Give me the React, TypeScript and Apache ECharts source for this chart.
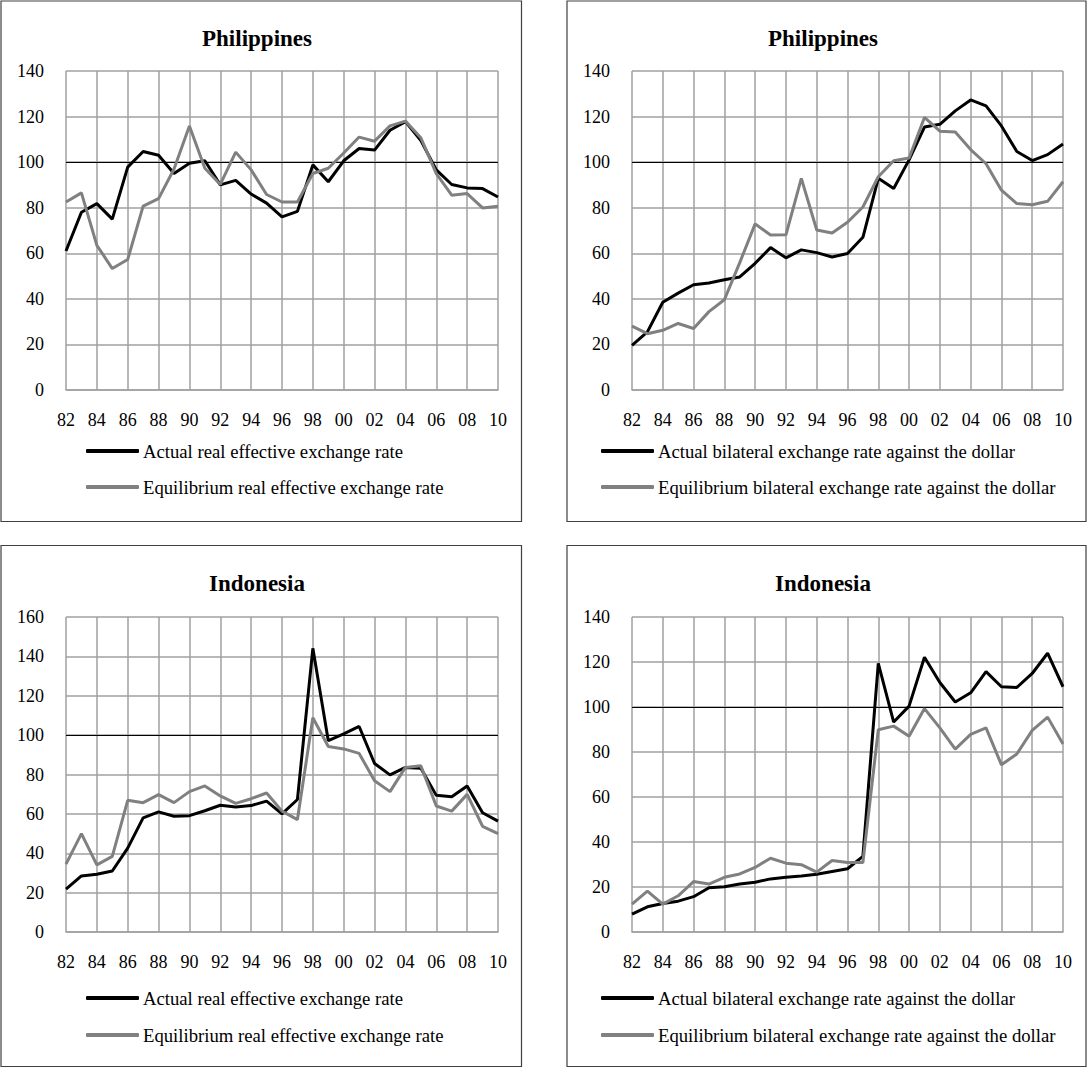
import React, { useEffect, useRef } from "react";
import * as echarts from "echarts";

const years = ["82","83","84","85","86","87","88","89","90","91","92","93","94","95","96","97","98","99","00","01","02","03","04","05","06","07","08","09","10"];

const phReerActual = [61, 78, 81.8, 75, 97.8, 104.7, 103, 95, 99.5, 100.6, 90, 92, 86, 82, 76, 78.4, 98.8, 91.4, 100.6, 106, 105.3, 114, 117.8, 109.5, 96.6, 90.2, 88.7, 88.4, 84.7];
const phReerEquil = [82.5, 86.5, 63.5, 53.3, 57.3, 80.7, 84, 97, 115.9, 97.3, 90.2, 104.4, 96.6, 85.8, 82.5, 82.5, 95, 97.3, 104, 111, 109.2, 115.9, 118, 110.7, 95, 85.5, 86.2, 79.9, 80.6];

const phBilActual = [19.6, 25.5, 38.5, 42.5, 46.2, 47, 48.4, 49.6, 55.6, 62.5, 58, 61.5, 60.3, 58.4, 59.9, 67, 92.9, 88.4, 101, 115.4, 116.6, 122.5, 127.3, 124.7, 115.9, 104.7, 100.7, 103.3, 108];
const phBilEquil = [28, 24.7, 26.2, 29.2, 27, 34.4, 39.6, 55.9, 72.9, 68, 68.1, 92.9, 70.2, 68.9, 73.6, 80.3, 93.6, 100.6, 101.8, 119.6, 113.6, 113.2, 105.5, 99.3, 87.7, 81.8, 81.3, 82.8, 91.4];

const idReerActual = [21.8, 28.5, 29.3, 31, 42.6, 58, 61, 58.8, 59.1, 61.6, 64.4, 63.5, 64.2, 66.5, 60, 67.3, 144.1, 97.2, 100.6, 104.4, 85.6, 79.8, 83.6, 83.2, 69.4, 68.7, 74.2, 60.6, 56.3];
const idReerEquil = [34.5, 50, 34.1, 38.4, 66.9, 65.7, 69.8, 65.7, 71.3, 74.2, 69.1, 65.3, 67.7, 70.6, 61.4, 57.1, 108.8, 94.2, 93, 90.7, 76.8, 71.3, 83.6, 84.4, 64, 61.4, 69.9, 53.7, 50];

const idBilActual = [7.9, 11.2, 12.7, 13.7, 15.7, 19.7, 20.1, 21.3, 22.1, 23.6, 24.3, 24.9, 25.7, 26.9, 28.1, 33.6, 119.4, 93.3, 100.4, 122.1, 110.9, 102.2, 106.3, 115.7, 109, 108.7, 114.9, 123.9, 109];
const idBilEquil = [12.4, 18.2, 12.4, 16.1, 22.4, 21.3, 24.3, 25.8, 28.7, 32.8, 30.6, 29.9, 26.6, 31.8, 30.9, 30.9, 89.9, 91.5, 87, 99.3, 90.7, 81.3, 87.8, 90.7, 74.3, 79.1, 89.6, 95.5, 83.6];

const titles = ["Philippines", "Philippines", "Indonesia", "Indonesia"];
const yMax = [140, 140, 160, 140];
const reerNames = ["Actual real effective exchange rate", "Equilibrium real effective exchange rate"];
const bilNames = ["Actual bilateral exchange rate against the dollar", "Equilibrium bilateral exchange rate against the dollar"];
const referenceLevel = 100;

const FONT = "Liberation Serif";
const GRID_COLOR = "#a0a0a0";
const ACTUAL_COLOR = "#000000";
const EQUIL_COLOR = "#808080";

export default function App() {
  const ref = useRef<HTMLDivElement>(null);
  useEffect(() => {
    if (!ref.current) return;
    const chart = echarts.init(ref.current, null, { renderer: "svg" });

    const panels = [
      { data: [phReerActual, phReerEquil], names: reerNames, grid: { left: 66, top: 71, width: 432, height: 319 }, titleX: 252, titleY: 22, legendX: 86, legendY: [441, 477] },
      { data: [phBilActual, phBilEquil], names: bilNames, grid: { left: 632, top: 71, width: 431, height: 319 }, titleX: 818, titleY: 22, legendX: 601, legendY: [441, 477] },
      { data: [idReerActual, idReerEquil], names: reerNames, grid: { left: 66, top: 617, width: 432, height: 315 }, titleX: 252, titleY: 567, legendX: 86, legendY: [988, 1025] },
      { data: [idBilActual, idBilEquil], names: bilNames, grid: { left: 632, top: 617, width: 431, height: 315 }, titleX: 818, titleY: 567, legendX: 601, legendY: [988, 1025] },
    ];

    const grids: any[] = [];
    const xAxes: any[] = [];
    const yAxes: any[] = [];
    const series: any[] = [];
    const legends: any[] = [];
    const titleOpts: any[] = [];

    panels.forEach((p, i) => {
      grids.push({ ...p.grid, containLabel: false });
      xAxes.push({
        type: "category",
        gridIndex: i,
        data: years,
        boundaryGap: false,
        axisTick: { show: false },
        axisLine: { show: true, lineStyle: { color: GRID_COLOR, width: 1.5 } },
        axisLabel: { interval: 1, margin: 21, color: "#000", fontFamily: FONT, fontSize: 18 },
        splitLine: { show: true, interval: 1, lineStyle: { color: GRID_COLOR, width: 1.5 } },
      });
      yAxes.push({
        type: "value",
        gridIndex: i,
        min: 0,
        max: yMax[i],
        interval: 20,
        axisLine: { show: false },
        axisTick: { show: false },
        axisLabel: { margin: 22, color: "#000", fontFamily: FONT, fontSize: 18 },
        splitLine: { show: true, lineStyle: { color: GRID_COLOR, width: 1.5 } },
      });
      series.push({
        type: "line",
        name: p.names[0],
        xAxisIndex: i,
        yAxisIndex: i,
        data: p.data[0],
        showSymbol: false,
        symbol: "none",
        lineStyle: { color: ACTUAL_COLOR, width: 3 },
        itemStyle: { color: ACTUAL_COLOR },
        z: 3,
        markLine: {
          silent: true,
          symbol: "none",
          label: { show: false },
          lineStyle: { color: "#000", width: 1.2, type: "solid" },
          data: [{ yAxis: referenceLevel }],
          z: 2,
        },
      });
      series.push({
        type: "line",
        name: p.names[1],
        xAxisIndex: i,
        yAxisIndex: i,
        data: p.data[1],
        showSymbol: false,
        symbol: "none",
        lineStyle: { color: EQUIL_COLOR, width: 3 },
        itemStyle: { color: EQUIL_COLOR },
        z: 4,
      });
      titleOpts.push({
        text: titles[i],
        left: p.titleX,
        top: p.titleY,
        textAlign: "center",
        textStyle: { fontFamily: FONT, fontSize: 23, fontWeight: "bold", color: "#000" },
      });
      p.names.forEach((nm, k) => {
        legends.push({
          data: [nm],
          left: p.legendX,
          top: p.legendY[k],
          padding: 0,
          orient: "vertical",
          icon: "roundRect",
          itemWidth: 53,
          itemHeight: 4,
          itemGap: 0,
          selectedMode: false,
          itemStyle: { color: k === 0 ? ACTUAL_COLOR : EQUIL_COLOR },
          textStyle: { fontFamily: FONT, fontSize: 18.7, color: "#000", lineHeight: 20, padding: [0, 0, 0, -1] },
        });
      });
    });

    const borderStyle = { fill: "none", stroke: "#404040", lineWidth: 1.2 };
    chart.setOption({
      animation: false,
      backgroundColor: "#fff",
      textStyle: { fontFamily: FONT },
      title: titleOpts,
      grid: grids,
      xAxis: xAxes,
      yAxis: yAxes,
      legend: legends,
      series,
      graphic: [
        { type: "rect", shape: { x: 1, y: 1, width: 520.5, height: 520.5 }, style: borderStyle, silent: true },
        { type: "rect", shape: { x: 567, y: 1, width: 519, height: 520.5 }, style: borderStyle, silent: true },
        { type: "rect", shape: { x: 1, y: 545.5, width: 520.5, height: 521 }, style: borderStyle, silent: true },
        { type: "rect", shape: { x: 567, y: 545.5, width: 519, height: 521 }, style: borderStyle, silent: true },
      ],
    });
    return () => chart.dispose();
  }, []);

  return (
    <div
      ref={ref}
      style={{ position: "absolute", left: 0, top: 0, width: 1087, height: 1068, background: "#fff" }}
    />
  );
}
